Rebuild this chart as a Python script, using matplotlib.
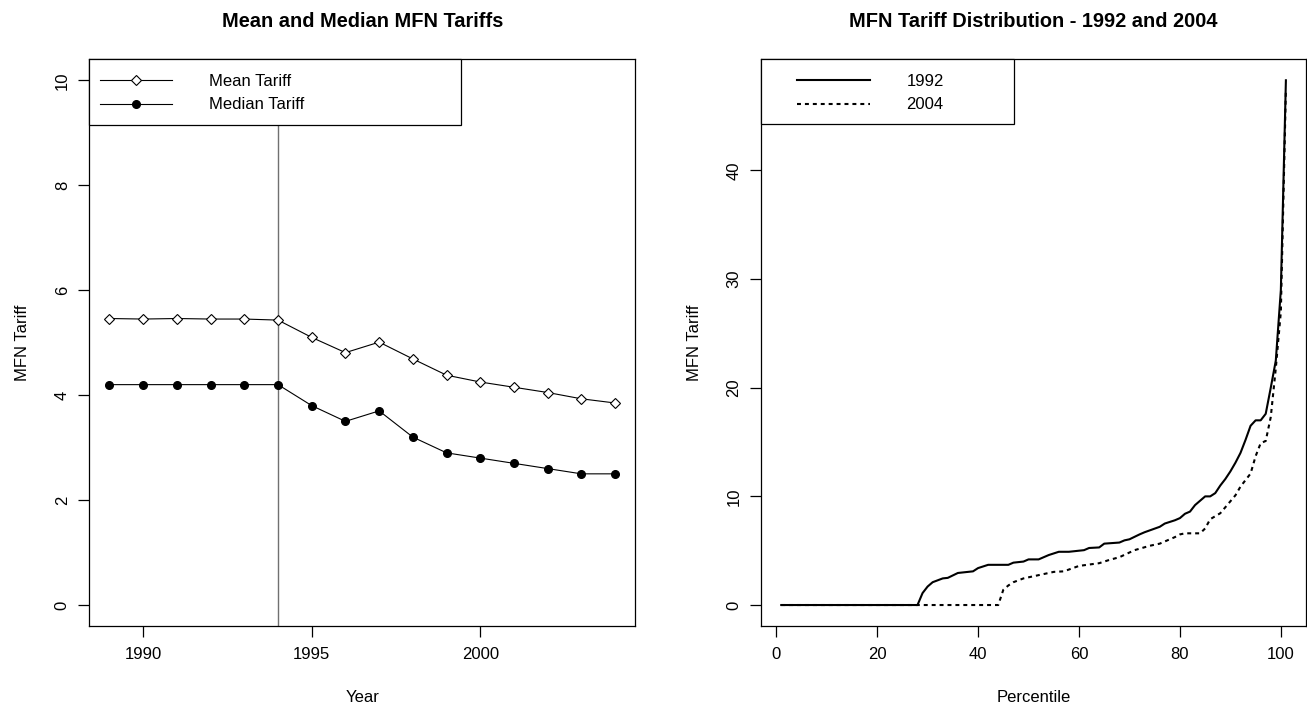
import matplotlib
matplotlib.use('Agg')
import matplotlib.pyplot as plt
from matplotlib.lines import Line2D
from matplotlib.patches import Rectangle

plt.rcParams['font.family'] = ['Liberation Sans', 'DejaVu Sans']

# ---------------------- data ----------------------
years = [1989, 1990, 1991, 1992, 1993, 1994, 1995, 1996,
         1997, 1998, 1999, 2000, 2001, 2002, 2003, 2004]
mean_tariff = [5.46, 5.45, 5.46, 5.45, 5.45, 5.43, 5.10, 4.81,
               5.01, 4.69, 4.38, 4.25, 4.15, 4.05, 3.93, 3.85]
median_tariff = [4.2, 4.2, 4.2, 4.2, 4.2, 4.2, 3.8, 3.5,
                 3.7, 3.2, 2.9, 2.8, 2.7, 2.6, 2.5, 2.5]
uruguay_year = 1994

pct_1992 = [1, 28, 29, 30, 31, 33, 34, 36, 39, 40, 42, 46, 47, 49, 50, 52, 54,
            56, 58, 61, 62, 64, 65, 68, 69, 70, 72, 73, 76, 77, 79, 80, 81, 82,
            83, 85, 86, 87, 88, 89, 90, 91, 92, 93, 94, 95, 96, 97, 98, 99, 100, 101]
tariff_1992 = [0, 0, 1.1, 1.7, 2.1, 2.45, 2.5, 2.95, 3.1, 3.4, 3.7, 3.7, 3.9,
               4.0, 4.2, 4.2, 4.6, 4.9, 4.9, 5.05, 5.25, 5.3, 5.65, 5.75, 5.95,
               6.05, 6.5, 6.7, 7.2, 7.5, 7.8, 8.0, 8.4, 8.6, 9.2, 10.0, 10.0,
               10.3, 11.0, 11.6, 12.3, 13.1, 14.0, 15.2, 16.5, 17.0, 17.0, 17.6,
               20.0, 22.5, 29.0, 48.3]

pct_2004 = [1, 44, 45, 46, 47, 49, 52, 55, 57, 60, 64, 66, 68, 71, 74, 76, 79,
            80, 81, 84, 85, 86, 88, 89, 91, 92, 94, 95, 96, 97, 98, 99, 100, 101]
tariff_2004 = [0, 0, 1.4, 1.8, 2.1, 2.45, 2.75, 3.05, 3.1, 3.6, 3.85, 4.15,
               4.4, 5.05, 5.45, 5.65, 6.25, 6.5, 6.6, 6.6, 7.05, 7.9, 8.45,
               9.0, 10.1, 10.9, 12.1, 13.7, 14.9, 15.1, 17.3, 21.8, 27.0, 47.5]

# ---------------------- figure ----------------------
fig = plt.figure(figsize=(13.07, 7.06), dpi=100, facecolor='white')
ax1 = fig.add_axes([0.0683, 0.1133, 0.4178, 0.8027])
ax2 = fig.add_axes([0.5823, 0.1133, 0.4170, 0.8027])

FS = 12


def r_style(ax):
    for s in ax.spines.values():
        s.set_linewidth(0.9)
        s.set_color('black')
    ax.tick_params(length=8, width=0.9, labelsize=FS, direction='out')
    ax.tick_params(axis='x', pad=7)
    ax.tick_params(axis='y', pad=6)
    for lab in ax.get_yticklabels():
        lab.set_rotation(90)
        lab.set_va('center')


# left panel: mean / median
ax1.axvline(uruguay_year, color='#707070', linewidth=1.0, zorder=1)
ax1.plot(years, mean_tariff, color='black', linewidth=0.8, marker='D',
         markersize=5, markerfacecolor='white', markeredgecolor='black',
         markeredgewidth=0.8, zorder=2)
ax1.plot(years, median_tariff, color='black', linewidth=0.8, marker='o',
         markersize=5.5, markerfacecolor='black', markeredgecolor='black', zorder=2)
ax1.margins(x=0.04)
ax1.set_ylim(-0.4, 10.4)
ax1.set_xticks([1990, 1995, 2000])
ax1.set_yticks([0, 2, 4, 6, 8, 10])
ax1.set_xlabel('Year', fontsize=FS, labelpad=20)
ax1.set_ylabel('MFN Tariff', fontsize=FS, labelpad=18)
ax1.set_title('Mean and Median MFN Tariffs', fontsize=14.4, fontweight='bold', pad=23)
r_style(ax1)

ax1.add_patch(Rectangle((0, 0.884), 0.681, 0.116, transform=ax1.transAxes,
                        facecolor='white', edgecolor='black', linewidth=0.9,
                        zorder=4, clip_on=False))
h_mean = Line2D([], [], color='black', linewidth=0.8, marker='D', markersize=5,
                markerfacecolor='white', markeredgewidth=0.8)
h_median = Line2D([], [], color='black', linewidth=0.8, marker='o', markersize=5.5)
leg1 = ax1.legend([h_mean, h_median], ['Mean Tariff', 'Median Tariff'],
                  loc='upper left', bbox_to_anchor=(0.019, 0.974), frameon=False,
                  borderpad=0, borderaxespad=0, handlelength=4.37,
                  handletextpad=2.18, labelspacing=0.5, fontsize=FS)
leg1.set_zorder(5)

# right panel: distribution
ax2.plot(pct_1992, tariff_1992, color='black', linewidth=1.5,
         solid_joinstyle='round', label='1992')
ax2.plot(pct_2004, tariff_2004, color='black', linewidth=1.5,
         linestyle=(0, (1.9, 1.9)), label='2004')
ax2.margins(0.04)
ax2.set_xticks([0, 20, 40, 60, 80, 100])
ax2.set_yticks([0, 10, 20, 30, 40])
ax2.set_xlabel('Percentile', fontsize=FS, labelpad=20)
ax2.set_ylabel('MFN Tariff', fontsize=FS, labelpad=18)
ax2.set_title('MFN Tariff Distribution - 1992 and 2004', fontsize=14.4,
              fontweight='bold', pad=23)
r_style(ax2)

ax2.add_patch(Rectangle((0, 0.886), 0.465, 0.114, transform=ax2.transAxes,
                        facecolor='white', edgecolor='black', linewidth=0.9,
                        zorder=4, clip_on=False))
leg2 = ax2.legend(loc='upper left', bbox_to_anchor=(0.0655, 0.974), frameon=False,
                  borderpad=0, borderaxespad=0, handlelength=4.38,
                  handletextpad=2.2, labelspacing=0.5, fontsize=FS)
leg2.set_zorder(5)

plt.savefig('out.png', dpi=100, facecolor='white')
